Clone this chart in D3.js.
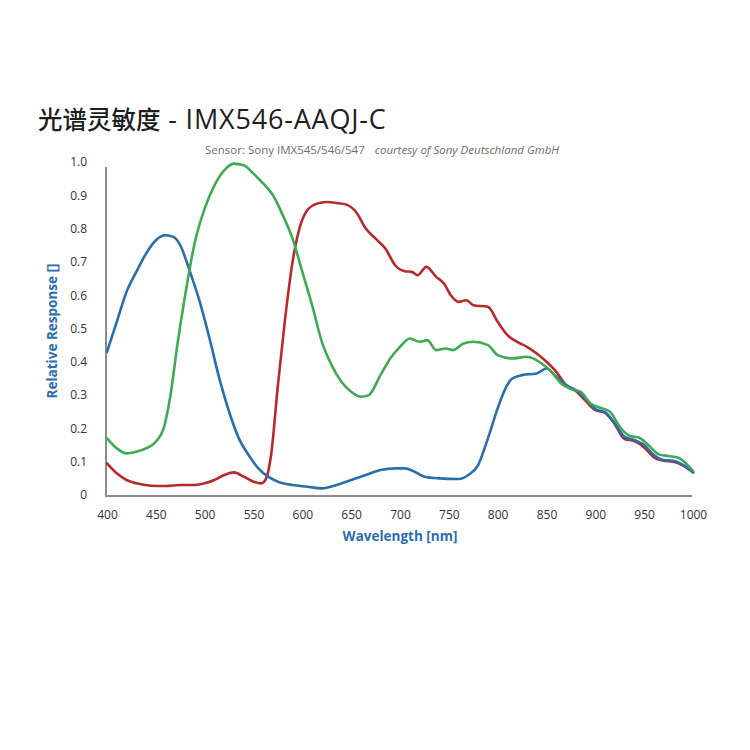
<!DOCTYPE html>
<html><head><meta charset="utf-8">
<script src="https://cdn.jsdelivr.net/npm/d3@7"></script>
<style>body{margin:0;background:#fff}svg{display:block}</style>
</head><body>
<svg id="chart" width="750" height="750"></svg>
<script>
const titleCJK = "光谱灵敏度";
const titleLatin = " - IMX546-AAQJ-C";
const subtitleA = "Sensor: Sony IMX545/546/547";
const subtitleB = "courtesy of Sony Deutschland GmbH";
const xLabel = "Wavelength [nm]";
const yLabel = "Relative Response []";
const xTicks = [400,450,500,550,600,650,700,750,800,850,900,950,1000];
const yTicks = [0,0.1,0.2,0.3,0.4,0.5,0.6,0.7,0.8,0.9,1.0];
const yTickLabels = ["0","0.1","0.2","0.3","0.4","0.5","0.6","0.7","0.8","0.9","1.0"];

const blueWl = [400,410,420,430,440,450,460,468,475,485,495,505,515,525,535,545,555,565,575,590,605,620,635,650,665,680,695,705,715,725,740,760,770,780,790,800,808,815,825,840,850,860,870,880,890,900,910,920,930,940,950,960,970,980,990,1000];
const blueVal = [0.43,0.52,0.61,0.67,0.725,0.765,0.78,0.775,0.75,0.67,0.58,0.47,0.35,0.25,0.17,0.12,0.08,0.055,0.04,0.03,0.025,0.02,0.03,0.045,0.06,0.075,0.08,0.08,0.07,0.055,0.05,0.048,0.06,0.09,0.17,0.26,0.32,0.35,0.36,0.365,0.38,0.355,0.33,0.315,0.29,0.258,0.248,0.215,0.175,0.165,0.15,0.12,0.105,0.103,0.09,0.068];

const greenWl = [400,410,420,430,440,450,458,465,472,480,490,500,510,520,530,540,550,560,570,580,590,600,610,620,630,640,650,660,668,680,690,700,710,720,728,737,747,754,765,775,790,800,815,830,845,855,865,875,885,895,905,915,925,935,945,955,965,975,985,992,1000];
const greenVal = [0.17,0.14,0.125,0.13,0.14,0.16,0.2,0.3,0.45,0.6,0.76,0.86,0.93,0.975,0.995,0.99,0.965,0.935,0.9,0.84,0.77,0.67,0.57,0.46,0.39,0.34,0.31,0.295,0.3,0.36,0.41,0.445,0.47,0.46,0.465,0.435,0.44,0.435,0.455,0.46,0.45,0.42,0.41,0.415,0.395,0.37,0.335,0.318,0.31,0.275,0.262,0.25,0.205,0.178,0.172,0.148,0.122,0.117,0.112,0.097,0.072];

const redWl = [400,410,420,430,445,460,475,490,500,510,520,530,540,550,558,563,568,575,582,590,597,605,615,625,635,645,655,665,675,685,695,705,712,718,727,737,745,752,760,768,775,790,800,810,820,830,840,850,860,870,880,890,900,910,920,930,940,950,960,970,980,990,1000];
const redVal = [0.095,0.065,0.045,0.035,0.028,0.027,0.03,0.03,0.035,0.045,0.06,0.068,0.055,0.04,0.035,0.05,0.12,0.33,0.52,0.70,0.80,0.855,0.875,0.88,0.877,0.872,0.85,0.8,0.77,0.74,0.69,0.672,0.67,0.66,0.685,0.655,0.635,0.60,0.58,0.585,0.57,0.565,0.52,0.48,0.46,0.445,0.425,0.40,0.37,0.33,0.312,0.283,0.255,0.247,0.212,0.168,0.162,0.143,0.113,0.103,0.1,0.088,0.068];

const series = [
  {wl: redWl, val: redVal, color: "#b52a2e"},
  {wl: blueWl, val: blueVal, color: "#2a6eab"},
  {wl: greenWl, val: greenVal, color: "#3fa956"}
];

const svg = d3.select("#chart");
const x = d3.scaleLinear().domain([400,1000]).range([107,693]);
const y = d3.scaleLinear().domain([0,1]).range([495,162]);

// title
const title = svg.append("text").attr("x",38).attr("y",129)
  .attr("fill","#1e1e1e");
title.append("tspan")
  .attr("font-family","'Noto Sans CJK SC','Noto Sans',sans-serif")
  .attr("font-size",24.5).attr("font-weight",500).text(titleCJK);
title.append("tspan")
  .attr("font-family","'Open Sans','Noto Sans',sans-serif")
  .attr("font-size",27).attr("font-weight",500).attr("letter-spacing",0.8).text(titleLatin);

const sub = svg.append("text").attr("x",205).attr("y",154)
  .attr("font-family","'Open Sans','Noto Sans',sans-serif")
  .attr("font-size",11.5).attr("fill","#6e6e6e");
sub.append("tspan").text(subtitleA);
sub.append("tspan").attr("dx",10).attr("font-style","italic").text(subtitleB);

// axis lines
svg.append("path")
  .attr("d", `M106,167 V496 H692`)
  .attr("fill","none").attr("stroke","#8c8c8c").attr("stroke-width",2);

// x axis
const xAxis = svg.append("g").attr("transform","translate(0,502)")
  .call(d3.axisBottom(x).tickValues(xTicks).tickSize(0).tickPadding(8).tickFormat(d3.format("d")));
xAxis.select(".domain").remove();
xAxis.selectAll("text").attr("font-family","'Open Sans','Noto Sans',sans-serif")
  .attr("font-size",12).attr("fill","#333");

// y axis
const yAxis = svg.append("g").attr("transform","translate(87,0)")
  .call(d3.axisLeft(y).tickValues(yTicks).tickSize(0).tickPadding(0)
    .tickFormat((d,i)=>yTickLabels[i]));
yAxis.select(".domain").remove();
yAxis.selectAll("text").attr("font-family","'Open Sans','Noto Sans',sans-serif")
  .attr("font-size",12).attr("fill","#333");

// axis labels
svg.append("text").attr("x",400).attr("y",541).attr("text-anchor","middle")
  .attr("font-family","'Open Sans','Noto Sans',sans-serif")
  .attr("font-size",13.5).attr("font-weight",700).attr("fill","#2a6eab")
  .text(xLabel);
svg.append("text").attr("transform","translate(57,331) rotate(-90)").attr("text-anchor","middle")
  .attr("font-family","'Open Sans','Noto Sans',sans-serif")
  .attr("font-size",13.5).attr("font-weight",700).attr("fill","#2a6eab")
  .text(yLabel);

// curves
const line = d3.line().x(d=>x(d[0])).y(d=>y(d[1])).curve(d3.curveMonotoneX);
series.forEach(s=>{
  const pts = s.wl.map((w,i)=>[w,s.val[i]]);
  svg.append("path").datum(pts).attr("d",line)
    .attr("fill","none").attr("stroke",s.color).attr("stroke-width",2.6)
    .attr("stroke-linejoin","round").attr("stroke-linecap","round");
});
</script>
</body></html>
